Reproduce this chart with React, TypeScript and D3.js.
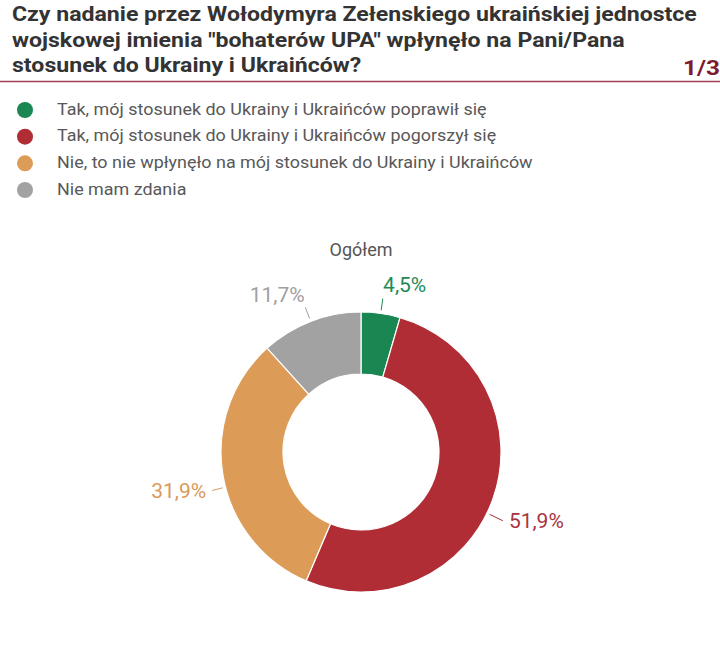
import React from "react";
import * as d3 from "d3";

const titleLines = [
  "Czy nadanie przez Wołodymyra Zełenskiego ukraińskiej jednostce",
  "wojskowej imienia \"bohaterów UPA\" wpłynęło na Pani/Pana",
  "stosunek do Ukrainy i Ukraińców?",
];
const pageLabel = "1/3";
const categories = [
  "Tak, mój stosunek do Ukrainy i Ukraińców poprawił się",
  "Tak, mój stosunek do Ukrainy i Ukraińców pogorszył się",
  "Nie, to nie wpłynęło na mój stosunek do Ukrainy i Ukraińców",
  "Nie mam zdania",
];
const values = [4.5, 51.9, 31.9, 11.7];
const colors = ["#1a8752", "#b02d35", "#dc9c57", "#a2a2a2"];
const labelColors = ["#1f8a55", "#a8343f", "#d99a58", "#a0a0a0"];
const chartTitle = "Ogółem";

const W = 720;
const H = 650;
const FONT = "Roboto, 'Noto Sans', sans-serif";

export default function App() {
  const cx = 361;
  const cy = 452;
  const outerR = 140;
  const innerR = 78;
  const pie = d3.pie<number>().sort(null).value((d) => d);
  const arcs = pie(values);
  const arc = d3.arc<d3.PieArcDatum<number>>().innerRadius(innerR).outerRadius(outerR);
  const fmt = (v: number) => v.toFixed(1).replace(".", ",") + "%";

  const legendY = d3.scalePoint<number>().domain(d3.range(categories.length)).range([110, 190]);
  const titleY = d3.scalePoint<number>().domain(d3.range(titleLines.length)).range([21, 72]);

  return (
    <svg width={W} height={H} style={{ position: "absolute", left: 0, top: 0, background: "#fff" }} fontFamily={FONT}>
      {titleLines.map((t, i) => (
        <g key={i} transform={`translate(12,${titleY(i)}) scale(1.155,1)`}>
          <text x={0} y={0} fontSize={20} fontWeight={700} fill="#333">
            {t}
          </text>
        </g>
      ))}
      <g transform="translate(683,75) scale(1.155,1)">
        <text x={0} y={0} fontSize={21} fontWeight={700} fill="#7d1b2e">{pageLabel}</text>
      </g>
      <line x1={0} x2={W} y1={81.5} y2={81.5} stroke="#a04058" strokeWidth={1.5} />

      {categories.map((c, i) => (
        <g key={c} transform={`translate(0,${legendY(i)})`}>
          <circle cx={25} cy={0} r={8} fill={colors[i]} />
          <g transform="translate(57,4.5) scale(1.055,1)">
            <text x={0} y={0} fontSize={17} fill="#585858">{c}</text>
          </g>
        </g>
      ))}

      <text x={cx} y={256} textAnchor="middle" fontSize={18} fill="#555">{chartTitle}</text>

      <g transform={`translate(${cx},${cy})`}>
        {arcs.map((a, i) => (
          <path key={i} d={arc(a) || ""} fill={colors[i]} stroke="#fff" strokeWidth={1.2} />
        ))}
        {arcs.map((a, i) => {
          const mid = (a.startAngle + a.endAngle) / 2;
          const sx = Math.sin(mid);
          const sy = -Math.cos(mid);
          const right = sx >= 0;
          const lx = sx * (outerR + 17);
          const ly = sy * (outerR + 38) + 9;
          const top = Math.abs(sy) > 0.7;
          const s: [number, number] = top
            ? [sx * (outerR + 15), sy * (outerR + 15)]
            : [lx + (right ? -6 : 6), ly];
          const len = Math.hypot(s[0], s[1]);
          const b: [number, number] = [(s[0] / len) * (outerR + 3), (s[1] / len) * (outerR + 3)];
          return (
            <g key={"l" + i}>
              <path d={`M${s[0]},${s[1]}L${b[0]},${b[1]}`} stroke={labelColors[i]} strokeWidth={1} fill="none" />
              <text x={lx} y={ly + 7.5} textAnchor={right ? "start" : "end"} fontSize={21} fill={labelColors[i]}>
                {fmt(values[i])}
              </text>
            </g>
          );
        })}
      </g>
    </svg>
  );
}
